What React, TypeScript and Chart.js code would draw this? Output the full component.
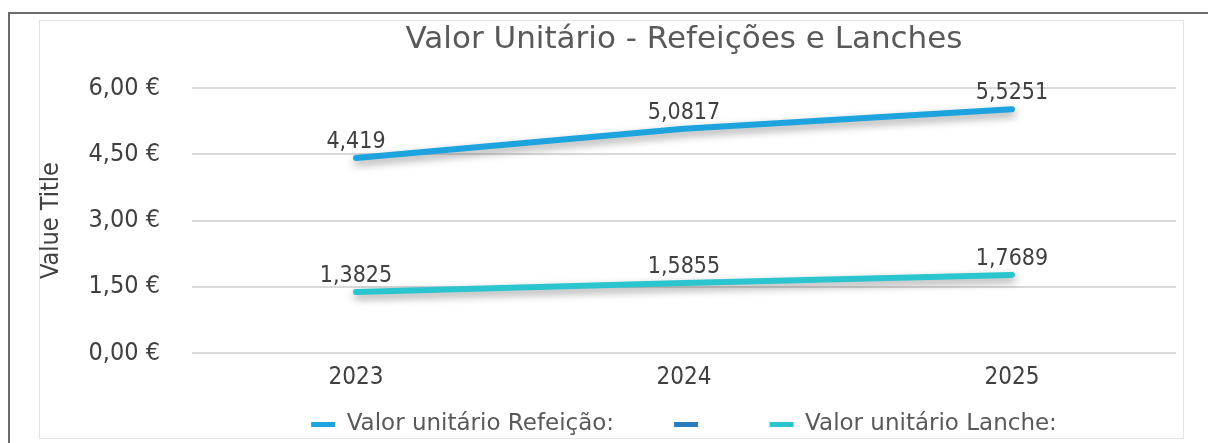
import React, { useEffect, useRef } from "react";
import { Chart, registerables } from "chart.js";

Chart.register(...registerables);

const years = ["2023", "2024", "2025"];
const refeicaoValues = [4.419, 5.0817, 5.5251];
const lancheValues = [1.3825, 1.5855, 1.7689];
const emptyValues: (number | null)[] = [null, null, null];
const seriesLabels = ["Valor unitário Refeição:", "", "Valor unitário Lanche:"];
const seriesColors = ["#1da3dd", "#2a7cc0", "#2bc5cf"];
const chartTitle = "Valor Unitário - Refeições e Lanches";
const axisTitle = "Value Title";

const FONT = "'DejaVu Sans Condensed', 'DejaVu Sans', sans-serif";
const WIDE_FONT = "'DejaVu Sans', sans-serif";

const fmt = (v: number) => v.toString().replace(".", ",");

const shadowPlugin = {
  id: "lineShadow",
  beforeDatasetDraw(chart: any) {
    const ctx = chart.ctx;
    ctx.save();
    ctx.shadowColor = "rgba(0,0,0,0.38)";
    ctx.shadowBlur = 8;
    ctx.shadowOffsetX = 1;
    ctx.shadowOffsetY = 4;
  },
  afterDatasetDraw(chart: any) {
    chart.ctx.restore();
  },
};

// let the category labels extend below the (zero-height) x-axis box without being clipped
const xLabelRoomPlugin = {
  id: "xLabelRoom",
  afterLayout(chart: any) {
    const x = chart.scales.x;
    if (x) x.bottom = x.top + 50;
  },
};

const labelPlugin = {
  id: "valueLabels",
  afterDatasetsDraw(chart: any) {
    const ctx = chart.ctx;
    ctx.save();
    ctx.font = `23px ${FONT}`;
    ctx.fillStyle = "#404040";
    ctx.textAlign = "center";
    ctx.textBaseline = "alphabetic";
    chart.data.datasets.forEach((ds: any, i: number) => {
      const meta = chart.getDatasetMeta(i);
      meta.data.forEach((pt: any, j: number) => {
        const v = ds.data[j];
        if (v === null || v === undefined) return;
        ctx.fillText(fmt(v), pt.x, pt.y - 10);
      });
    });
    ctx.restore();
  },
};

export default function App() {
  const ref = useRef<HTMLCanvasElement>(null);
  useEffect(() => {
    document.body.style.margin = "0";
    const chart = new Chart(ref.current as HTMLCanvasElement, {
      type: "line",
      data: {
        labels: years,
        datasets: [
          { label: seriesLabels[0], data: refeicaoValues, borderColor: seriesColors[0], backgroundColor: seriesColors[0] },
          { label: seriesLabels[1], data: emptyValues, borderColor: seriesColors[1], backgroundColor: seriesColors[1] },
          { label: seriesLabels[2], data: lancheValues, borderColor: seriesColors[2], backgroundColor: seriesColors[2] },
        ].map((d) => ({
          ...d,
          borderWidth: 6,
          borderCapStyle: "round" as const,
          borderJoinStyle: "round" as const,
          pointRadius: 0,
          pointHoverRadius: 0,
          tension: 0,
          fill: false,
        })),
      },
      plugins: [shadowPlugin, labelPlugin, xLabelRoomPlugin],
      options: {
        animation: false,
        responsive: false,
        devicePixelRatio: 1,
        layout: { padding: { left: 32, right: 32, top: 14, bottom: -3 } },
        plugins: {
          tooltip: { enabled: false },
          title: {
            display: true,
            text: chartTitle,
            fullSize: false,
            color: "#595959",
            font: { family: WIDE_FONT, size: 31, weight: "normal" },
            padding: { top: 7, bottom: 30 },
          },
          legend: {
            position: "bottom",
            fullSize: false,
            labels: {
              color: "#595959",
              font: { family: WIDE_FONT, size: 23 },
              boxWidth: 24,
              boxHeight: 5,
              padding: 60,
              generateLabels: (chart: any) =>
                chart.data.datasets.map((ds: any, i: number) => ({
                  text: ds.label,
                  fillStyle: ds.borderColor,
                  strokeStyle: ds.borderColor,
                  lineWidth: 0,
                  hidden: false,
                  datasetIndex: i,
                  fontColor: "#595959",
                })),
            },
          },
        },
        scales: {
          x: {
            offset: true,
            afterFit: (scale: any) => {
              scale.height = 0;
            },
            grid: { display: false, drawTicks: false },
            border: { display: false },
            ticks: { color: "#404040", font: { family: FONT, size: 24 }, padding: 10 },
          },
          y: {
            min: 0,
            max: 6,
            afterFit: (scale: any) => {
              scale.width = 160;
            },
            grid: { color: "#d9d9d9", lineWidth: 2, drawTicks: false },
            border: { display: false },
            ticks: {
              stepSize: 1.5,
              color: "#404040",
              font: { family: FONT, size: 25 },
              padding: 32,
              callback: (v: any) => Number(v).toFixed(2).replace(".", ",") + " €",
            },
            title: {
              display: true,
              text: axisTitle,
              color: "#404040",
              font: { family: FONT, size: 25 },
              padding: { top: 4, bottom: 4 },
            },
          },
        },
      },
    });
    return () => chart.destroy();
  }, []);
  return (
    <div style={{ position: "relative", width: 1208, height: 443, overflow: "hidden", background: "#fff" }}>
      <div
        style={{
          position: "absolute",
          left: 8,
          top: 12,
          width: 1300,
          height: 500,
          borderTop: "2px solid #6b6b6b",
          borderLeft: "2px solid #6b6b6b",
        }}
      />
      <div
        style={{
          position: "absolute",
          left: 39,
          top: 20,
          width: 1145,
          height: 419,
          border: "1px solid #e3e3e3",
          boxSizing: "border-box",
        }}
      />
      <canvas ref={ref} width={1208} height={443} style={{ position: "absolute", left: 0, top: 0 }} />
    </div>
  );
}
